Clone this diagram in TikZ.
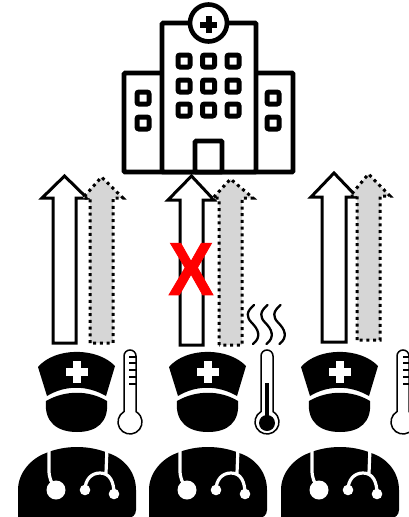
\documentclass[tikz,border=0pt]{standalone}
\usepackage{fontspec}
\setmainfont{Liberation Sans}
\newfontface\boldX[FakeBold=1.2]{Liberation Sans Bold}
\usepackage{tikz}

\begin{document}
\begin{tikzpicture}[
  x=1pt, y=-1pt,
  hospLine/.style={draw=black, line width=4.6pt, rounded corners=1pt, fill=white},
  winBox/.style={draw=black, line width=5pt, rounded corners=2pt, fill=white},
  arrowSolid/.style={draw=black, line width=3pt, fill=white, miter limit=4},
  arrowDotted/.style={draw=black, line width=3pt, fill=black!16, dash pattern=on 3pt off 3.7pt},
  heatLine/.style={draw=black, line width=2.3pt, line cap=round},
  thermoLine/.style={draw=black, line width=1.5pt, fill=white},
  stethLine/.style={draw=white, line width=3.2pt},
]

\tikzset{
  nursePic/.pic={
    % hat
    \fill[black] (-39,-5) .. controls (-22,-25) and (20,-25) .. (38,-6)
      -- (29,24) .. controls (10,13) and (-12,13) .. (-30,24) -- cycle;
    \fill[white] (-3.7,-11) rectangle (3.7,11);
    \fill[white] (-11,-3.7) rectangle (11,3.7);
    % face
    \fill[black] (-31,29) .. controls (-12,18) and (12,18) .. (30,29)
      .. controls (32,50) and (20,60) .. (0,60)
      .. controls (-20,60) and (-33,50) .. (-31,29) -- cycle;
    % body
    \fill[black] (-59,146) -- (-59,118) .. controls (-59,100) and (-45,86) .. (-31,81)
      .. controls (-12,73) and (12,73) .. (31,81)
      .. controls (47,86) and (59,100) .. (59,118)
      -- (59,138) .. controls (59,143) and (55,146) .. (51,146) -- cycle;
    % stethoscope
    \draw[stethLine] (-28,74) -- (-28,98) .. controls (-28,106) and (-26,110) .. (-21,118);
    \fill[white] (-21,118) circle (9.5);
    \draw[stethLine] (30,76) -- (29,101);
    \draw[stethLine] (8,118) .. controls (8,108) and (14,101) .. (23,101)
      .. controls (33,101) and (37,110) .. (37,122);
    \fill[white] (8,118) circle (5.3);
    \fill[white] (37,122) circle (5.3);
  },
  thermoPic/.pic={
    \draw[thermoLine] (-6,0) -- (-6,55.6) arc[start angle=240, end angle=-60, radius=12]
      -- (6,0) arc[start angle=0, end angle=-180, radius=6] -- cycle;
  }
}

\clip (0,0) rectangle (409,517);

% --- Begin Hospital ---
\draw[hospLine] (124,172) rectangle (293,73);
\draw[hospLine] (162,172) rectangle (256,23);
\draw[hospLine] (195,172) rectangle (222,141);
\draw[hospLine] (208.5,23) circle (18.5);
\draw[line width=6pt] (208.5,16) -- (208.5,33);
\draw[line width=6pt] (200,24.5) -- (217,24.5);

\foreach \wx in {184,208.5,233} {
  \foreach \wy in {61,86,110} {
    \draw[winBox] (\wx-6,\wy-6) rectangle (\wx+6,\wy+6);
  }
}
\foreach \wx in {143,273} {
  \foreach \wy in {98,123} {
    \draw[winBox] (\wx-6,\wy-6) rectangle (\wx+6,\wy+6);
  }
}

% --- Begin Arrows ---
% left, right, tip y, shoulder y, bottom y, head left, head right
\foreach \al/\ar/\at/\as/\ab/\hl/\hr in {53/76/176/198/343/42/87, 180/203/176/200/345/168/214, 322/346/173/197/342/311/357} {
  \draw[arrowSolid] (\al,\ab) -- (\al,\as) -- (\hl,\as) -- ({(\al+\ar)/2},\at) -- (\hr,\as) -- (\ar,\as) -- (\ar,\ab) -- cycle;
}
\foreach \al/\ar/\at/\as/\ab/\hl/\hr in {90/113/177/198/343/83/123, 219/242/179/198/345/213/253, 357/380/174/196/340/350/390} {
  \draw[arrowDotted] (\al,\ab) -- (\al,\as) -- (\hl,\as) -- ({(\al+\ar)/2},\at) -- (\hr,\as) -- (\ar,\as) -- (\ar,\ab) -- cycle;
}

\node[text=red, inner sep=0pt, xscale=0.9, font=\fontsize{75}{75}\selectfont\boldX] (redX) at (191,269) {X};

% heat above the hot thermometer
\foreach \hx in {0,13.5,26.5} {
  \draw[heatLine] (254+\hx,305) .. controls (246+\hx,312) and (246+\hx,317) .. (252+\hx,323)
    .. controls (258+\hx,329) and (262+\hx,337) .. (253+\hx,344);
}

% --- Begin Nurses ---
\foreach \nx in {77,208,340} {
  \pic at (\nx,372) {nursePic};
}

% --- Begin Thermometers ---
\foreach \tx in {130,267,403} {
  \pic at (\tx,356) {thermoPic};
}
\foreach \ty in {357,363,370,377,384} {
  \draw[line width=1.4pt] (129,\ty) -- (136,\ty);
  \draw[line width=1.4pt] (403,\ty) -- (409,\ty);
}
\draw[line width=4pt] (267,383) -- (267,420);
\fill[black] (267,423) circle (8);

\end{tikzpicture}
\end{document}
